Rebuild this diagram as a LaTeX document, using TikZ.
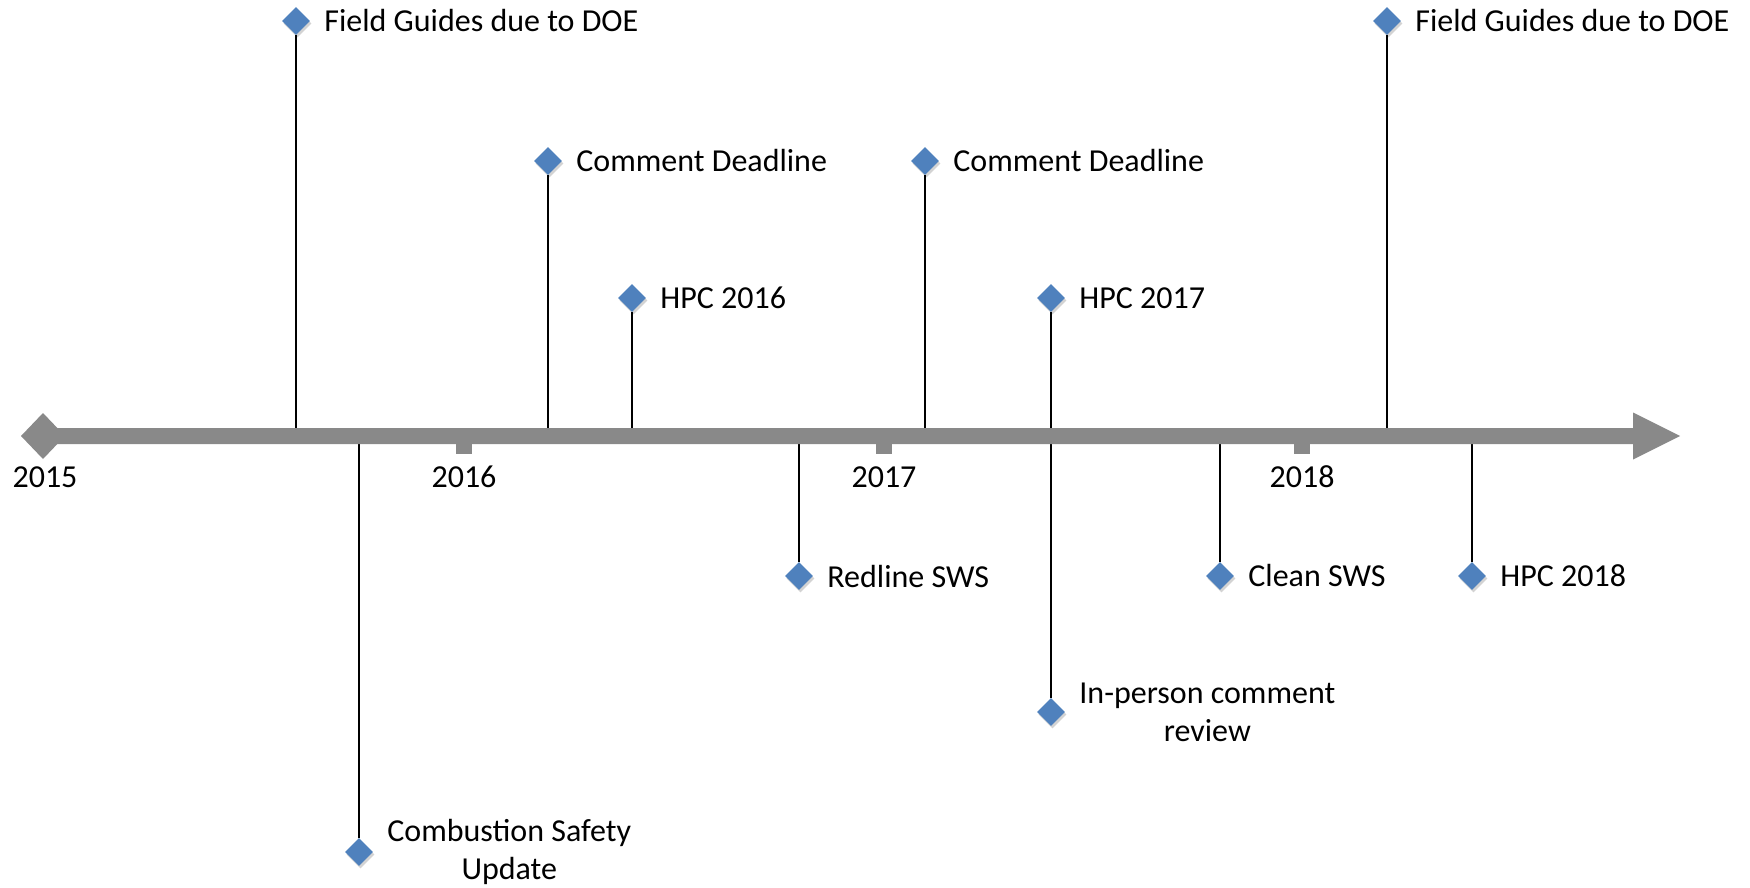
\documentclass[tikz,border=0pt]{standalone}
\usepackage{fontspec}
\setmainfont{Carlito}
\usetikzlibrary{shapes.geometric,shadows,positioning}
\definecolor{axisgray}{RGB}{137,137,137}
\definecolor{evblue}{RGB}{79,129,189}
\tikzset{
  ev/.style={shape=diamond, fill=evblue, draw=none, inner sep=0pt, minimum width=28pt, minimum height=28pt,
    drop shadow={opacity=0.35, shadow xshift=1.5pt, shadow yshift=-2.5pt}},
  lab/.style={inner sep=0pt, font=\fontsize{32}{38}\selectfont, align=center, anchor=west},
  yr/.style={inner sep=0pt, font=\fontsize{32}{38}\selectfont},
  stem/.style={draw=black, line width=1.6pt},
  tickmark/.style={fill=axisgray},
}
\begin{document}
\begin{tikzpicture}[x=1pt,y=-1pt]
\useasboundingbox (0,0) rectangle (1750,888);
\coordinate (ax) at (0,436);
% events
\node[ev] (e1) at (296,21) {};
\node[ev] (e2) at (359,852) {};
\node[ev] (e3) at (548,161) {};
\node[ev] (e4) at (632,298) {};
\node[ev] (e5) at (799,576) {};
\node[ev] (e6) at (925,161) {};
\node[ev] (e7) at (1051,298) {};
\node[ev] (e8) at (1051,712) {};
\node[ev] (e9) at (1220,576) {};
\node[ev] (e10) at (1387,21) {};
\node[ev] (e11) at (1472,576) {};
% stems
\foreach \n in {e1,e2,e3,e4,e5,e6,e7,e8,e9,e10,e11}{
  \draw[stem] (\n) -- (\n |- ax);
}
% axis
\fill[axisgray] (43,428) -- (1633,428) -- (1633,412.5) -- (1680,436) -- (1633,459.5) -- (1633,444) -- (43,444) -- cycle;
\fill[axisgray] (21,436) -- (43,413) -- (65,436) -- (43,459) -- cycle;
\foreach \x in {464,884,1302}{
  \fill[tickmark] (\x-8,428) rectangle (\x+8,454);
}
% years
\node[yr] (y15) at (45,477) {2015};
\node[yr] (y16) at (464,477) {2016};
\node[yr] (y17) at (884,477) {2017};
\node[yr] (y18) at (1302,477) {2018};
% labels
\node[lab, right=14pt of e1] (l1) {Field Guides due to DOE};
\node[lab, right=14pt of e2] (l2) {Combustion Safety\\Update};
\node[lab, right=14pt of e3] (l3) {Comment Deadline};
\node[lab, right=14pt of e4] (l4) {HPC 2016};
\node[lab, right=14pt of e5] (l5) {Redline SWS};
\node[lab, right=14pt of e6] (l6) {Comment Deadline};
\node[lab, right=14pt of e7] (l7) {HPC 2017};
\node[lab, right=14pt of e8] (l8) {In-person comment\\review};
\node[lab, right=14pt of e9] (l9) {Clean SWS};
\node[lab, right=14pt of e10] (l10) {Field Guides due to DOE};
\node[lab, right=14pt of e11] (l11) {HPC 2018};
\end{tikzpicture}
\end{document}
